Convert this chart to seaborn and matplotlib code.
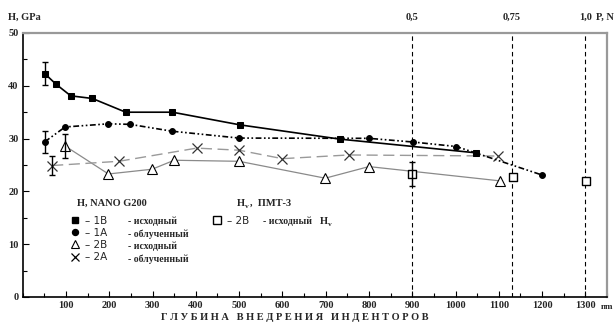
import numpy as np
import pandas as pd
import seaborn as sns
import matplotlib
matplotlib.use("Agg")
import matplotlib.pyplot as plt
from matplotlib.lines import Line2D
from matplotlib.ticker import MultipleLocator

# ---- data ----
x_1B = [51, 77, 111, 161, 238, 346, 502, 733, 1048]
h_1B = [42.3, 40.3, 38.1, 37.6, 35.0, 35.0, 32.6, 29.9, 27.3]

x_1A = [51, 98, 198, 248, 345, 500, 800, 902, 1002, 1200]
h_1A = [29.4, 32.2, 32.8, 32.7, 31.4, 30.1, 30.05, 29.35, 28.5, 23.1]

x_2B = [98, 198, 299, 350, 500, 699, 800, 1102]
h_2B = [28.6, 23.3, 24.2, 25.9, 25.7, 22.5, 24.7, 22.0]

x_2A = [68, 222, 402, 500, 600, 753, 1099]
h_2A = [24.9, 25.7, 28.2, 27.8, 26.2, 26.9, 26.7]

x_Hv = [900, 1132, 1302]
h_Hv = [23.3, 22.8, 22.0]

# error bars: (x, y, half-width)
err_x = [51, 51, 98, 68, 900]
err_y = [42.3, 29.4, 28.6, 24.9, 23.3]
err_d = [2.2, 2.1, 2.2, 1.85, 2.2]

load_x = [900, 1130, 1300]
load_labels = ["0,5", "0,75", "1,0"]

x_ticks = [100, 200, 300, 400, 500, 600, 700, 800, 900, 1000, 1100, 1200, 1300]
y_ticks = [0, 10, 20, 30, 40, 50]

sns.set_style("white")
plt.rcParams["font.family"] = ["Liberation Serif", "DejaVu Serif"]

fig = plt.figure(figsize=(6.16, 3.22), dpi=100)
ax = fig.add_axes([22.7 / 616, 1 - 297 / 322, (607 - 22.7) / 616, (297 - 33) / 322])

df1B = pd.DataFrame({"x": x_1B, "h": h_1B})
df1A = pd.DataFrame({"x": x_1A, "h": h_1A})
df2B = pd.DataFrame({"x": x_2B, "h": h_2B})
df2A = pd.DataFrame({"x": x_2A, "h": h_2A})
dfHv = pd.DataFrame({"x": x_Hv, "h": h_Hv})

# vertical dashed load lines
for lx in load_x:
    ax.axvline(lx, color="black", lw=0.8, dashes=(4, 3), zorder=1)

sns.lineplot(data=df2B, x="x", y="h", ax=ax, color="#8a8a8a", lw=0.9,
             marker="^", markersize=6.5, markerfacecolor="white",
             markeredgecolor="black", markeredgewidth=0.8, zorder=3)
sns.lineplot(data=df2A, x="x", y="h", ax=ax, color="#9a9a9a", lw=1.0,
             dashes=(8, 4), marker="x", markersize=6.5,
             markeredgecolor="#333333", markeredgewidth=0.9, zorder=3)
sns.lineplot(data=df1B, x="x", y="h", ax=ax, color="black", lw=1.2,
             marker="s", markersize=4.2, markeredgecolor="black", zorder=4)
sns.lineplot(data=df1A, x="x", y="h", ax=ax, color="black", lw=1.2,
             dashes=(3.5, 1.5, 1, 1.5, 1, 1.5), marker="o", markersize=4.2,
             markeredgecolor="black", zorder=4)
sns.scatterplot(data=dfHv, x="x", y="h", ax=ax, marker="s", s=36,
                facecolor="white", edgecolor="black", linewidth=1.0, zorder=5)

ax.errorbar(err_x, err_y, yerr=err_d, fmt="none", ecolor="black",
            elinewidth=1.0, capsize=2, capthick=1.0, zorder=6)

ax.set_xlim(0, 1350)
ax.set_ylim(0, 50)
ax.set_xticks(x_ticks)
ax.set_xticklabels([str(t) for t in x_ticks])
ax.xaxis.set_minor_locator(MultipleLocator(50))
ax.set_yticks(y_ticks)
ax.set_yticklabels([str(t) for t in y_ticks])
ax.tick_params(which="both", direction="in", color="black", width=0.8,
               labelsize=7.5, pad=3)
ax.yaxis.set_minor_locator(MultipleLocator(5))
ax.tick_params(which="major", length=4)
ax.tick_params(which="minor", length=3)
ax.tick_params(axis="x", which="both", bottom=True)
ax.tick_params(axis="y", which="both", left=True)
for lab in ax.get_xticklabels() + ax.get_yticklabels():
    lab.set_fontweight("bold")
ax.set_xlabel("")
ax.set_ylabel("")

for s in ["left", "bottom"]:
    ax.spines[s].set_color("black")
    ax.spines[s].set_linewidth(1.2)
for s in ["top", "right"]:
    ax.spines[s].set_color("#999999")
    ax.spines[s].set_linewidth(1.6)

# axis titles
fig.text(8 / 616, 1 - 17 / 322, "H, GPa", fontsize=7.5, fontweight="bold",
         va="center", ha="left")
for lx, lab in zip(load_x, load_labels):
    ax.text(lx, 1.06, lab, transform=ax.get_xaxis_transform(), fontsize=7.5,
            fontweight="bold", ha="center", va="center")
fig.text(596 / 616, 1 - 17 / 322, "P, N", fontsize=7.5, fontweight="bold",
         va="center", ha="left")
fig.text(601 / 616, 1 - 307 / 322, "nm", fontsize=6.5, fontweight="bold",
         va="center", ha="left")
fig.text(295 / 616, 1 - 318 / 322,
         "Г Л У Б И Н А   В Н Е Д Р Е Н И Я   И Н Д Е Н Т О Р О В",
         fontsize=7.5, fontweight="bold", ha="center", va="center")


def h_sub(xa, ya, rest, size=7.5):
    """Write 'H' with subscript 'v' followed by rest, in axes coords."""
    t = ax.text(xa, ya, "H", transform=ax.transAxes, fontsize=size,
                fontweight="bold", va="center")
    ax.annotate("v", xy=(xa, ya), xycoords="axes fraction",
                xytext=(size * 0.78, -2.2), textcoords="offset points",
                fontsize=size * 0.72, fontweight="bold", va="center")
    if rest:
        ax.annotate(rest, xy=(xa, ya), xycoords="axes fraction",
                    xytext=(size * 0.78 + size * 0.5, 0), textcoords="offset points",
                    fontsize=size, fontweight="bold", va="center")
    return t


# legend blocks
ax.text((77 - 22.7) / 584.3, (297 - 203) / 264, "H, NANO G200",
        transform=ax.transAxes, fontsize=7.5, fontweight="bold", va="center")
h_sub((237 - 22.7) / 584.3, (297 - 203) / 264, ",  ПМТ-3")

handles = [
    Line2D([], [], ls="none", marker="s", ms=4.0, color="black"),
    Line2D([], [], ls="none", marker="o", ms=4.3, color="black"),
    Line2D([], [], ls="none", marker="^", ms=6.0, mfc="white", mec="black", mew=0.8),
    Line2D([], [], ls="none", marker="x", ms=6.0, mec="black", mew=0.9),
]
leg = ax.legend(handles, ["– 1B", "– 1A", "– 2B", "– 2A"],
                loc="upper left",
                bbox_to_anchor=((70 - 22.7) / 584.3, (297 - 215.5) / 264),
                frameon=False, borderpad=0, borderaxespad=0,
                handlelength=1.0, handletextpad=0.4, labelspacing=0.22,
                prop={"family": "DejaVu Sans", "size": 7.5})
ax.add_artist(leg)
descr = ["- исходный", "- облученный", "- исходный", "- облученный"]
rows = [221.7, 234, 246.7, 259]
for d, r in zip(descr, rows):
    ax.text((128 - 22.7) / 584.3, (297 - r) / 264, d, transform=ax.transAxes,
            fontsize=7, fontweight="bold", va="center")

h2 = [Line2D([], [], ls="none", marker="s", ms=5.5, mfc="white", mec="black", mew=1.0)]
leg2 = ax.legend(h2, ["– 2B"], loc="upper left",
                 bbox_to_anchor=((212 - 22.7) / 584.3, (297 - 215.5) / 264),
                 frameon=False, borderpad=0, borderaxespad=0,
                 handlelength=1.0, handletextpad=0.4,
                 prop={"family": "DejaVu Sans", "size": 7.5})
ax.text((263 - 22.7) / 584.3, (297 - 221.7) / 264, "- исходный",
        transform=ax.transAxes, fontsize=7, fontweight="bold", va="center")
h_sub((320 - 22.7) / 584.3, (297 - 221.7) / 264, "", size=7.5)

fig.savefig("out.png", dpi=100)
